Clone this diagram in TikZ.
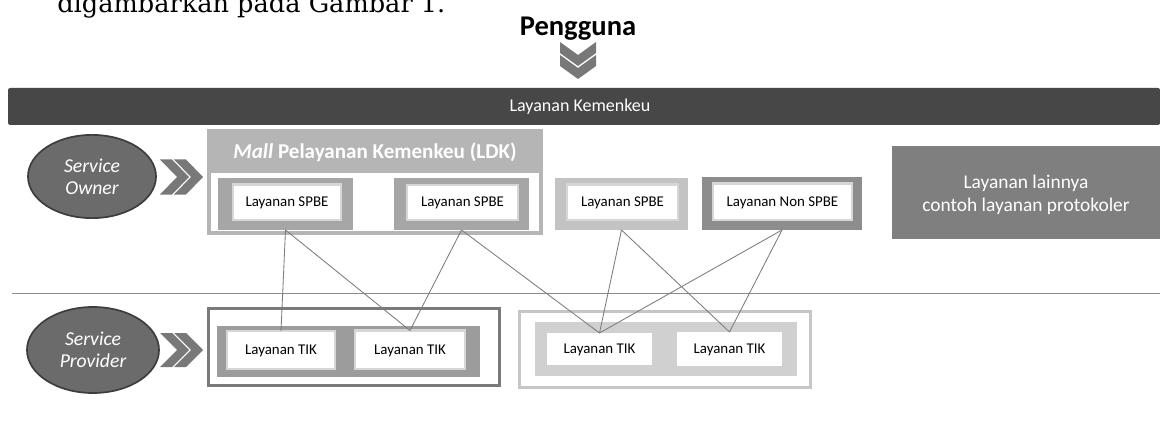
\documentclass[tikz,border=0pt]{standalone}
\usepackage{fontspec}
\setsansfont{Carlito}
\newfontfamily\introfont{DejaVu Serif}
\usetikzlibrary{shapes.geometric,fit}
\definecolor{bardark}{HTML}{474747}
\definecolor{ellfill}{HTML}{6B6B6B}
\definecolor{ellborder}{HTML}{3D3D3D}
\definecolor{chevgray}{HTML}{787878}
\definecolor{mallgray}{HTML}{B5B5B5}
\definecolor{spbemid}{HTML}{A6A6A6}
\definecolor{spbelight}{HTML}{C3C3C3}
\definecolor{nonspbe}{HTML}{8D8D8D}
\definecolor{rimgray}{HTML}{D6D6D6}
\definecolor{othergray}{HTML}{7F7F7F}
\definecolor{tikdarkborder}{HTML}{7A7A7A}
\definecolor{tikdarkband}{HTML}{9C9C9C}
\definecolor{tiklightborder}{HTML}{C6C6C6}
\definecolor{tiklightband}{HTML}{D0D0D0}
\definecolor{conngray}{HTML}{7B7B7B}
\definecolor{sepgray}{HTML}{8C8C8C}
\begin{document}
\begin{tikzpicture}[x=0.025cm,y=-0.025cm,
  region/.style={rectangle,inner sep=0pt,outer sep=0pt},
  labelfont/.style={font=\sffamily\fontsize{10.6}{12}\selectfont},
  boxlabel/.style={label={[labelfont,inner sep=0pt,yshift=-0.6pt]center:#1}},
  innerbox/.style={region,fill=white,draw=rimgray,line width=1.8pt},
  tikbox/.style={region,fill=white,draw=rimgray,line width=1.5pt},
  ellnode/.style={ellipse,fill=ellfill,draw=ellborder,line width=1.2pt,text=white,
    align=center,inner sep=0pt,font=\sffamily\itshape\fontsize{14}{15.5}\selectfont},
  chev/.style={fill=chevgray},
  conn/.style={draw=conngray,line width=0.6pt}]
\clip (0,0) rectangle (1160,433);
\useasboundingbox (0,0) rectangle (1160,433);
\fill[white] (0,0) rectangle (1160,433);

% intro text (cut at top)
\node[anchor=base west,inner sep=0pt] (intro) at (57,12.5) {\resizebox{9.7cm}{!}{\introfont digambarkan pada Gambar 1.}};

% user
\node[anchor=base,inner sep=0pt,font=\sffamily\bfseries\fontsize{20.3}{24}\selectfont] (user) at (578,36) {Pengguna};
\fill[chev] (560,42)--(578,55)--(596,42)--(596,53)--(578,66)--(560,53)--cycle;
\fill[chev] (560,55)--(578,68)--(596,55)--(596,66)--(578,79)--(560,66)--cycle;

% top bar
\node[region,fit={(8,88)(1160,125)},fill=bardark,rounded corners=1.5pt] (kemenkeu) {};
\node[inner sep=0pt,text=white,font=\sffamily\fontsize{12.8}{15}\selectfont] (kemenkeutext) at (580,106.5) {Layanan Kemenkeu};

% owner
\node[ellnode,minimum width=3.2cm,minimum height=2.08cm] (owner) at (92,176.5) {Service\\Owner};
\fill[chev] (160,159.5)--(172,159.5)--(189,177)--(172,194.5)--(160,194.5)--(177,177)--cycle;
\fill[chev] (174,159.5)--(186,159.5)--(203,177)--(186,194.5)--(174,194.5)--(191,177)--cycle;

% mall
\node[region,fit={(207,129)(543,235)},fill=mallgray] (mall) {};
\node[inner sep=0pt,text=white,font=\sffamily\bfseries\fontsize{15}{18}\selectfont] (malltitle) at (375,152) {\textit{Mall} Pelayanan Kemenkeu (LDK)};
\node[region,fit={(211,173)(539,231)},fill=white] (mallin) {};

\node[region,fit={(218,178)(353,230)},fill=spbemid] (spbeA) {};
\node[innerbox,fit={(233,184.5)(341,220)},boxlabel={Layanan SPBE}] (spbeAin) {};
\node[region,fit={(394,178)(529,230)},fill=spbemid] (spbeB) {};
\node[innerbox,fit={(407,185)(518,220)},boxlabel={Layanan SPBE}] (spbeBin) {};

\node[region,fit={(555,178)(688,230)},fill=spbelight] (spbeC) {};
\node[innerbox,fit={(567,184.5)(678,220)},boxlabel={Layanan SPBE}] (spbeCin) {};
\node[region,fit={(702,177)(862,230)},fill=nonspbe] (nonspbe) {};
\node[innerbox,fit={(713,183.5)(852,220)},boxlabel={Layanan Non SPBE}] (nonspbein) {};

\node[region,fit={(892,146)(1160,239)},fill=othergray] (other) {};
\node[inner sep=0pt,text=white,align=center,font=\sffamily\fontsize{13.8}{16.4}\selectfont] (othertext) at (1026,194.5) {Layanan lainnya\\contoh layanan protokoler};

% separator
\coordinate (sepL) at (12,293);
\coordinate (sepR) at (1160,293);
\draw[sepgray,line width=0.7pt] (sepL) -- (sepR);

% provider
\node[ellnode,minimum width=3.3cm,minimum height=2.15cm] (provider) at (93,350) {Service\\Provider};
\fill[chev] (160,333)--(172,333)--(189,350)--(172,367)--(160,367)--(177,350)--cycle;
\fill[chev] (174,333)--(186,333)--(203,350)--(186,367)--(174,367)--(191,350)--cycle;

% TIK group 1
\node[region,fit={(208.5,308.5)(499.5,385.5)},fill=white,draw=tikdarkborder,line width=2.1pt] (tikgroupA) {};
\node[region,fit={(217,326)(480,377)},fill=tikdarkband] (tikbandA) {};
\node[tikbox,fit={(227,331)(335,369)},boxlabel={Layanan TIK}] (tikA) {};
\node[tikbox,fit={(355,330.5)(465,369)},boxlabel={Layanan TIK}] (tikB) {};

% TIK group 2
\node[region,fit={(519.5,311.5)(810.5,387.5)},fill=white,draw=tiklightborder,line width=2.1pt] (tikgroupB) {};
\node[region,fit={(535,322)(797,376)},fill=tiklightband] (tikbandB) {};
\node[region,fit={(547,333)(652,365)},fill=white,boxlabel={Layanan TIK}] (tikC) {};
\node[region,fit={(677,332)(782,366)},fill=white,boxlabel={Layanan TIK}] (tikD) {};

% connectors
\draw[conn] (spbeA.south) -- (tikA.north);
\draw[conn] (spbeA.south) -- (tikB.north);
\draw[conn] (spbeB.south) -- (tikB.north);
\draw[conn] (spbeB.south) -- (tikC.north);
\draw[conn] (spbeC.south) -- (tikC.north);
\draw[conn] (spbeC.south) -- (tikD.north);
\draw[conn] (nonspbe.south) -- (tikC.north);
\draw[conn] (nonspbe.south) -- (tikD.north);
\end{tikzpicture}
\end{document}
